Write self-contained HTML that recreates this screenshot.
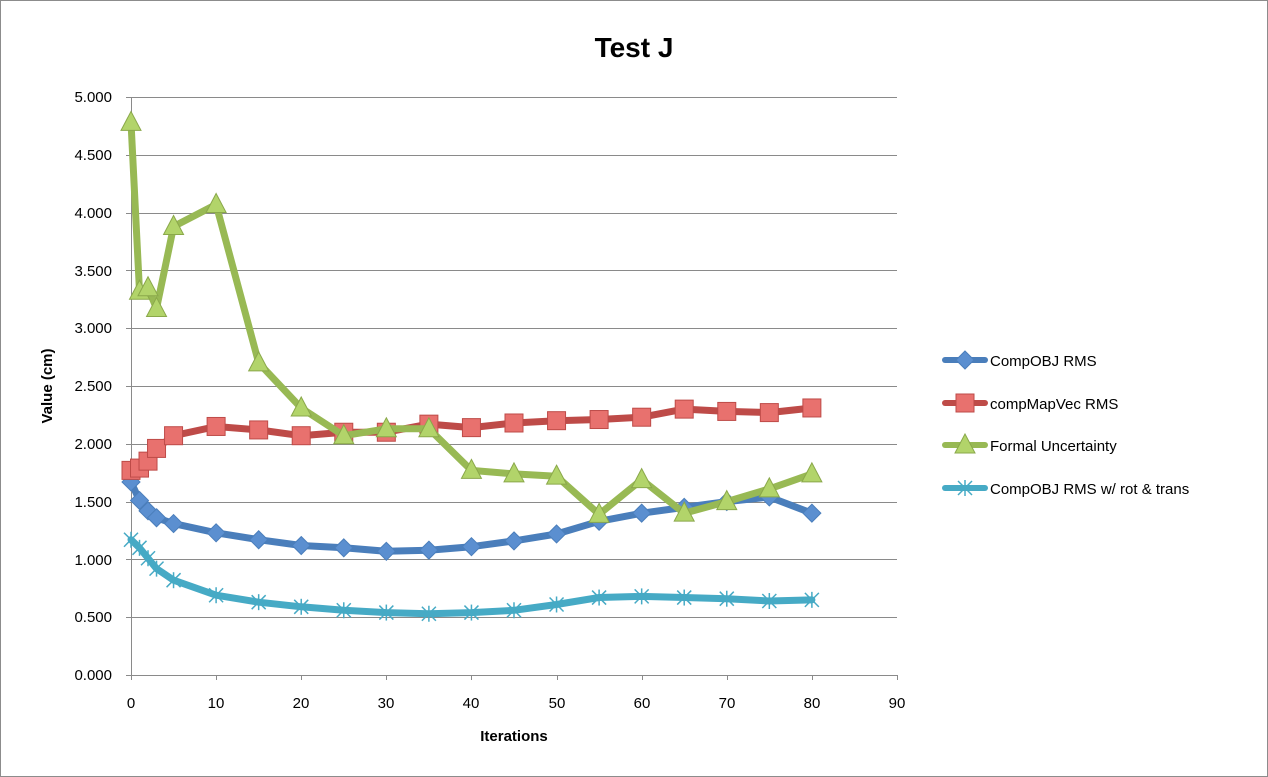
<!DOCTYPE html>
<html><head><meta charset="utf-8"><style>
html,body{margin:0;padding:0;background:#fff}
svg{display:block;font-family:"Liberation Sans",sans-serif}
</style></head><body>
<svg id="s" width="1268" height="777" xmlns="http://www.w3.org/2000/svg">
<rect x="0.5" y="0.5" width="1267" height="776" fill="#fff" stroke="#8c8c8c"/>
<text x="634" y="57" text-anchor="middle" font-size="28" font-weight="bold">Test J</text>
<g id="grid" stroke="#8a8a8a" stroke-width="1"></g>
<g font-size="15" text-anchor="end" fill="#000">
<text x="112" y="102">5.000</text><text x="112" y="160">4.500</text><text x="112" y="218">4.000</text>
<text x="112" y="276">3.500</text><text x="112" y="333">3.000</text><text x="112" y="391">2.500</text>
<text x="112" y="449">2.000</text><text x="112" y="507">1.500</text><text x="112" y="565">1.000</text>
<text x="112" y="622">0.500</text><text x="112" y="680">0.000</text>
</g>
<g font-size="15" text-anchor="middle">
<text x="131" y="708">0</text><text x="216" y="708">10</text><text x="301" y="708">20</text>
<text x="386" y="708">30</text><text x="471" y="708">40</text><text x="557" y="708">50</text>
<text x="642" y="708">60</text><text x="727" y="708">70</text><text x="812" y="708">80</text>
<text x="897" y="708">90</text>
</g>
<text x="514" y="741" text-anchor="middle" font-size="15" font-weight="bold">Iterations</text>
<text transform="translate(52,386) rotate(-90)" text-anchor="middle" font-size="15" font-weight="bold">Value (cm)</text>
<g id="series"></g>
<g font-size="15">
<text x="990" y="366">CompOBJ RMS</text>
<text x="990" y="409">compMapVec RMS</text>
<text x="990" y="451">Formal Uncertainty</text>
<text x="990" y="494">CompOBJ RMS w/ rot &amp; trans</text>
</g>
<g id="leg"></g>
</svg>
<script>
var NS="http://www.w3.org/2000/svg";
function X(v){return 131+v*8.511}
function Y(v){return 675-v*115.6}
function el(t,a,p){var e=document.createElementNS(NS,t);for(var k in a)e.setAttribute(k,a[k]);p.appendChild(e);return e}
var g=document.getElementById('grid');
for(var i=0;i<=10;i++){var y=Math.round(Y(i*0.5))+0.5;el('line',{x1:131,x2:897,y1:y,y2:y},g)}
el('line',{x1:131.5,x2:131.5,y1:97,y2:680},g);
for(var i=0;i<=9;i++){var x=Math.round(X(i*10))+0.5;el('line',{x1:x,x2:x,y1:675,y2:680},g)}
for(var i=0;i<=10;i++){var y=Math.round(Y(i*0.5))+0.5;el('line',{x1:126,x2:131,y1:y,y2:y},g)}
var xs=[0,1,2,3,5,10,15,20,25,30,35,40,45,50,55,60,65,70,75,80];
var S=[
{c:'#4a7ebb',f:'#5b8fd0',m:'d',d:[1.67,1.51,1.42,1.36,1.31,1.23,1.17,1.12,1.10,1.07,1.08,1.11,1.16,1.22,1.33,1.40,1.45,1.50,1.54,1.40]},
{c:'#be4b48',f:'#e8716e',m:'s',d:[1.77,1.79,1.85,1.96,2.07,2.15,2.12,2.07,2.10,2.10,2.17,2.14,2.18,2.20,2.21,2.23,2.30,2.28,2.27,2.31]},
{c:'#98b954',f:'#b2d46a',m:'t',d:[4.78,3.32,3.35,3.17,3.88,4.07,2.70,2.31,2.07,2.13,2.13,1.77,1.74,1.72,1.39,1.69,1.40,1.50,1.61,1.74]},
{c:'#46aac5',f:'#46aac5',m:'x',d:[1.17,1.10,1.01,0.92,0.82,0.69,0.63,0.59,0.56,0.54,0.53,0.54,0.56,0.61,0.67,0.68,0.67,0.66,0.64,0.65]}
];
var sg=document.getElementById('series'),lg=document.getElementById('leg');
function marker(m,x,y,s,p){
 if(m=='d')el('polygon',{points:(x)+','+(y-9)+' '+(x+9)+','+y+' '+x+','+(y+9)+' '+(x-9)+','+y,fill:s.f,stroke:s.c,'stroke-width':1},p);
 else if(m=='s')el('rect',{x:x-9,y:y-9,width:18,height:18,fill:s.f,stroke:s.c,'stroke-width':1},p);
 else if(m=='t')el('polygon',{points:x+','+(y-11)+' '+(x+10)+','+(y+8)+' '+(x-10)+','+(y+8),fill:s.f,stroke:'#8aa84a','stroke-width':1},p);
 else{var a={stroke:s.c,'stroke-width':1.5};
  el('line',Object.assign({x1:x-7,x2:x+7,y1:y-7,y2:y+7},a),p);el('line',Object.assign({x1:x-7,x2:x+7,y1:y+7,y2:y-7},a),p);
  el('line',Object.assign({x1:x,x2:x,y1:y-8,y2:y+8},a),p);}
}
var ly=[360,403,445,488];
S.forEach(function(s,k){
 var pts=s.d.map(function(v,i){return X(xs[i]).toFixed(1)+','+Y(v).toFixed(1)}).join(' ');
 el('polyline',{points:pts,fill:'none',stroke:s.c,'stroke-width':7,'stroke-linejoin':'round','stroke-linecap':'round'},sg);
 s.d.forEach(function(v,i){marker(s.m,X(xs[i]),Y(v),s,sg)});
 el('line',{x1:945,x2:985,y1:ly[k],y2:ly[k],stroke:s.c,'stroke-width':6,'stroke-linecap':'round'},lg);
 marker(s.m,965,ly[k],s,lg);
});
</script>
</body></html>
